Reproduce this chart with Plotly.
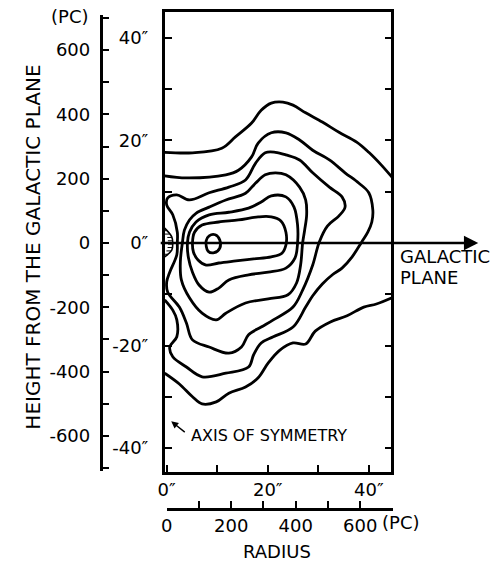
import numpy as np
import plotly.graph_objects as go

# ---------------- data (radius r and height z, both in arcsec) ----------------
# open contours that leave the frame
c1_top_r = [-0.4, 5.1, 10.9, 13.6, 16.8, 18.7, 20.7, 23.0, 25.0, 27.5, 30.8, 34.1, 37.6, 40.0, 42.5, 44.8]
c1_top_z = [17.7, 17.6, 18.5, 20.7, 23.4, 25.9, 27.3, 27.5, 26.9, 25.4, 23.6, 21.6, 19.7, 17.7, 15.2, 12.6]

c1_bot_r = [-0.4, 2.5, 5.1, 7.0, 9.8, 12.3, 15.6, 18.1, 20.1, 22.4, 25.0, 27.5, 29.4, 32.4, 35.7, 39.0, 41.5, 44.8]
c1_bot_z = [-25.4, -27.5, -30.0, -31.4, -31.0, -29.3, -28.1, -26.3, -23.4, -20.9, -19.5, -19.7, -17.2, -15.4, -14.2, -12.5, -11.9, -10.6]

c2_r = [-0.4, 3.9, 11.7, 14.2, 16.8, 18.1, 20.7, 23.6, 26.3, 28.9, 32.2, 35.3, 38.0, 40.0, 40.8, 40.6, 39.8,
        38.6, 36.7, 34.7, 32.8, 30.8, 28.9, 27.5, 25.0, 21.1, 18.7, 17.2, 16.2, 11.7, 7.0, 3.9, 1.2, 0.6,
        2.0, 2.0, 1.2, -0.4]
c2_z = [13.1, 12.7, 13.3, 14.2, 16.8, 19.5, 21.5, 21.5, 20.1, 18.1, 16.2, 13.7, 11.7, 9.8, 6.4, 4.1, 2.1,
        0.2, -2.7, -4.9, -6.2, -8.0, -10.3, -12.5, -16.4, -18.3, -19.5, -21.8, -24.2, -25.4, -26.1, -24.2,
        -22.2, -20.3, -18.3, -15.0, -13.1, -11.1]

# closed contours
c3_r = [2.1, 2.1, 1.2, 0.0, 0.2, 2.0, 4.5, 8.4, 12.3, 15.6, 17.6, 19.5, 21.5, 23.6, 26.3, 28.9, 32.2, 34.7,
        35.3, 34.1, 31.8, 30.2, 28.9, 26.9, 25.0, 21.1, 18.7, 16.2, 14.8, 12.3, 8.4, 5.1, 3.9, 2.5, 0.2,
        0.0, 0.6, 2.0]
c3_z = [0.0, 2.1, 5.5, 7.4, 8.8, 9.4, 8.4, 9.8, 10.9, 12.3, 15.6, 17.6, 17.7, 17.2, 16.2, 13.7, 10.9, 9.0,
        7.0, 5.3, 3.3, 0.2, -4.3, -9.2, -12.5, -15.0, -16.4, -17.9, -20.3, -21.5, -20.3, -18.9, -15.6,
        -12.5, -9.6, -7.6, -5.7, -2.3]

c4_r = [3.1, 3.5, 4.5, 5.8, 8.4, 11.7, 15.6, 17.6, 19.5, 21.5, 23.6, 26.3, 27.5, 27.7, 27.3, 26.9, 26.5,
        25.7, 24.0, 20.1, 15.6, 11.7, 9.8, 7.0, 4.5, 2.9, 2.7]
c4_z = [0.0, 2.5, 4.5, 5.8, 7.0, 8.4, 9.7, 11.7, 13.3, 13.7, 13.3, 10.9, 8.4, 5.5, 2.5, 0.0, -4.3,
        -7.8, -10.1, -10.9, -11.7, -13.7, -15.0, -13.7, -10.7, -7.2, -3.7]

c5_r = [4.1, 4.5, 5.8, 8.4, 12.3, 16.2, 18.7, 20.7, 23.6, 25.2, 25.9, 25.9, 25.4, 23.6, 20.1, 16.2, 12.3,
        10.3, 8.4, 6.4, 5.1, 4.3]
c5_z = [0.0, 2.1, 4.1, 5.5, 6.0, 6.8, 8.0, 9.2, 9.0, 7.0, 3.5, 0.0, -2.9, -4.9, -5.7, -6.2, -7.2,
        -8.8, -9.6, -8.2, -5.7, -2.9]

c6_r = [5.1, 5.5, 7.0, 10.3, 14.2, 18.1, 20.7, 22.6, 23.6, 23.6, 22.8, 20.7, 17.2, 13.7, 10.3, 7.8, 6.2, 5.3]
c6_z = [0.0, 2.1, 3.5, 4.1, 4.5, 5.1, 5.1, 4.3, 2.1, -0.4, -2.0, -2.7, -3.1, -3.5, -3.9, -4.3, -3.3, -1.8]

c7_r = [7.8, 8.4, 9.6, 10.5, 10.5, 9.4, 8.2]
c7_z = [0.4, 1.4, 1.6, 0.6, -1.0, -1.9, -1.6]

# hatched depression on the axis of symmetry
dip_r = [-0.4, 1.0, 1.2, 1.0, -0.4]
dip_z = [2.9, 1.2, 0.0, -1.4, -2.7]

# axes ticks / labels
arc_y_ticks = [-40, -30, -20, -10, 0, 10, 20, 30, 40]
arc_y_text = ["-40″", "", "-20″", "", "0″", "", "20″", "", "40″"]
arc_x_ticks = [0, 10, 20, 30, 40]
arc_x_text = ["0″", "", "20″", "", "40″"]
pc_y_ticks = [-700, -600, -500, -400, -300, -200, -100, 0, 100, 200, 300, 400, 500, 600, 700]
pc_y_text = ["", "-600", "", "-400", "", "-200", "", "0", "", "200", "", "400", "", "600", ""]
pc_x_ticks = [0, 100, 200, 300, 400, 500, 600, 700]
pc_x_text = ["0", "", "200", "", "400", "", "600", ""]

W, H = 495, 564
FONT = "DejaVu Sans"

fig = go.Figure()
lstyle = dict(color="black", width=2.8, shape="spline", smoothing=1.0)

for r, z in [(c1_top_r, c1_top_z), (c1_bot_r, c1_bot_z), (c2_r, c2_z)]:
    fig.add_trace(go.Scatter(x=r, y=z, mode="lines", line=lstyle,
                             hoverinfo="skip", showlegend=False))

for r, z in [(c3_r, c3_z), (c4_r, c4_z), (c5_r, c5_z), (c6_r, c6_z), (c7_r, c7_z)]:
    fig.add_trace(go.Scatter(x=r + [r[0]], y=z + [z[0]], mode="lines", line=lstyle,
                             fill="toself", fillcolor="rgba(0,0,0,0)",
                             hoverinfo="skip", showlegend=False))

# depression outline + hatching
fig.add_trace(go.Scatter(x=dip_r, y=dip_z, mode="lines",
                         line=dict(color="black", width=1.6, shape="spline"),
                         hoverinfo="skip", showlegend=False))
hz = np.linspace(dip_z[-1] + 0.5, dip_z[0] - 0.5, 8)
hr = np.interp(hz, dip_z[::-1], dip_r[::-1])
hx, hy = [], []
for zz, rr in zip(hz, hr):
    hx += [rr - 0.9, rr, None]
    hy += [zz, zz, None]
fig.add_trace(go.Scatter(x=hx, y=hy, mode="lines", line=dict(color="black", width=1),
                         hoverinfo="skip", showlegend=False))

# empty trace that owns the parsec axes
fig.add_trace(go.Scatter(x=[], y=[], xaxis="x2", yaxis="y2", showlegend=False, hoverinfo="skip"))

axis_common = dict(showgrid=False, zeroline=False, showline=True, linecolor="black",
                   tickcolor="black", tickfont=dict(family=FONT, size=18, color="black"))

fig.update_layout(
    width=W, height=H,
    margin=dict(l=0, r=0, t=0, b=0),
    paper_bgcolor="white", plot_bgcolor="rgba(0,0,0,0)",
    font=dict(family=FONT, size=18, color="black"),
    xaxis=dict(axis_common, domain=[160 / W, 390 / W], range=[-0.39, 44.49],
               linewidth=2.6, mirror=True, ticks="inside", ticklen=7, tickwidth=2,
               tickmode="array", tickvals=arc_x_ticks, ticktext=arc_x_text),
    yaxis=dict(axis_common, domain=[92 / H, 552 / H], range=[-44.68, 45.07],
               linewidth=2.6, mirror="allticks", ticks="inside", ticklen=7, tickwidth=2,
               tickmode="array", tickvals=arc_y_ticks, ticktext=arc_y_text,
               ticklabelstandoff=10),
    xaxis2=dict(axis_common, domain=[162 / W, 392 / W], range=[0, 703],
                anchor="free", position=(H - 509) / H, linewidth=2.6,
                ticks="inside", ticklen=7, tickwidth=2,
                tickmode="array", tickvals=pc_x_ticks, ticktext=pc_x_text),
    yaxis2=dict(axis_common, domain=[(H - 471) / H, (H - 15) / H], range=[-709, 709],
                anchor="free", position=95 / W, linewidth=2.6,
                ticks="inside", ticklen=7, tickwidth=2,
                tickmode="array", tickvals=pc_y_ticks, ticktext=pc_y_text,
                ticklabelstandoff=6),
)

ann_font = dict(family=FONT, size=18, color="black")
# galactic plane arrow
fig.add_annotation(x=478 / W, y=0, xref="paper", yref="y", ax=-(478 - 159), ay=0,
                   axref="pixel", ayref="pixel", text="", showarrow=True,
                   arrowhead=2, arrowsize=1.1, arrowwidth=2.6, arrowcolor="black")
fig.add_annotation(x=397 / W, y=(H - 256) / H, xref="paper", yref="paper", text="GALACTIC",
                   showarrow=False, xanchor="left", yanchor="middle", font=ann_font)
fig.add_annotation(x=397 / W, y=(H - 277) / H, xref="paper", yref="paper", text="PLANE",
                   showarrow=False, xanchor="left", yanchor="middle", font=ann_font)
# axis of symmetry
fig.add_annotation(x=0.9, y=-34.8, xref="x", yref="y", ax=15, ay=12, text="",
                   showarrow=True, arrowhead=2, arrowsize=1, arrowwidth=1.4, arrowcolor="black")
fig.add_annotation(x=185 / W, y=(H - 435) / H, xref="paper", yref="paper",
                   text="AXIS OF SYMMETRY", showarrow=False, xanchor="left", yanchor="middle",
                   font=dict(family=FONT, size=16, color="black"))
# axis titles
fig.add_annotation(x=26 / W, y=(H - 247) / H, xref="paper", yref="paper",
                   text="HEIGHT FROM THE GALACTIC PLANE", textangle=-90, showarrow=False,
                   xanchor="center", yanchor="middle", font=dict(family=FONT, size=20, color="black"))
fig.add_annotation(x=63 / W, y=(H - 16) / H, xref="paper", yref="paper", text="(PC)",
                   showarrow=False, xanchor="center", yanchor="middle", font=ann_font)
fig.add_annotation(x=274 / W, y=(H - 551) / H, xref="paper", yref="paper", text="RADIUS",
                   showarrow=False, xanchor="center", yanchor="middle", font=ann_font)
fig.add_annotation(x=600, y=(H - 522) / H, xref="x2", yref="paper", text="(PC)", xshift=20,
                   showarrow=False, xanchor="left", yanchor="middle", font=ann_font)

fig.write_html("out.html")
